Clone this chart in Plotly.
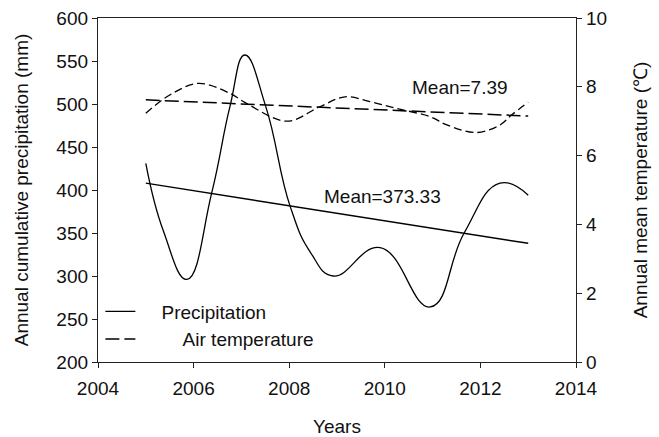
import plotly.graph_objects as go

# Precipitation curve
precip_years = [2005.0, 2005.37, 2005.86, 2006.38, 2006.76, 2007.07, 2007.51,
                2008.02, 2008.45, 2008.92, 2009.9, 2010.95, 2011.66, 2012.41, 2013.0]
precip_mm = [431, 352, 296, 397, 497, 557, 497,
             381, 327, 300, 333, 264, 350, 408, 394]

# Air temperature curve
temp_years = [2005.0, 2005.5, 2006.1, 2006.76, 2007.08, 2007.95, 2008.64, 2009.17,
              2009.69, 2010.25, 2010.95, 2011.3, 2011.92, 2012.41, 2012.65, 2013.0]
temp_c = [7.23, 7.76, 8.10, 7.81, 7.54, 7.00, 7.42, 7.71,
          7.57, 7.37, 7.13, 6.89, 6.67, 6.89, 7.18, 7.55]

# Trend lines
trend_years = [2005, 2013]
precip_trend = [408, 338]
temp_trend = [7.62, 7.15]

FONT = "Liberation Sans, Arial, sans-serif"
FS = 19
NB = "\u00a0"

fig = go.Figure()
fig.add_trace(go.Scatter(x=precip_years, y=precip_mm, mode="lines", name=NB * 4 + "Precipitation",
                         line=dict(color="black", width=1.3, shape="spline", smoothing=1.3)))
fig.add_trace(go.Scatter(x=trend_years, y=precip_trend, mode="lines", showlegend=False,
                         line=dict(color="black", width=1.5)))
fig.add_trace(go.Scatter(x=temp_years, y=temp_c, mode="lines", showlegend=False, yaxis="y2",
                         line=dict(color="black", width=1.3, dash="8px,4px", shape="spline", smoothing=1.0)))
fig.add_trace(go.Scatter(x=trend_years, y=temp_trend, mode="lines", yaxis="y2",
                         name=NB * 8 + "Air temperature",
                         line=dict(color="black", width=1.5, dash="14px,5px")))

fig.add_annotation(x=2009.95, y=392, text="Mean=373.33", showarrow=False,
                   font=dict(family=FONT, size=FS, color="#111"))
fig.add_annotation(x=2011.57, y=7.97, yref="y2", text="Mean=7.39", showarrow=False,
                   font=dict(family=FONT, size=FS, color="#111"))

axis_common = dict(showgrid=False, zeroline=False, showline=True, linecolor="#222", linewidth=1.3,
                   ticks="outside", ticklen=5, tickcolor="#222", tickwidth=1.3, automargin=False,
                   tickfont=dict(family=FONT, size=FS, color="#111"))

fig.update_layout(
    width=659, height=437,
    margin=dict(l=98, r=83, t=18, b=75),
    paper_bgcolor="white", plot_bgcolor="white",
    font=dict(family=FONT, size=FS, color="#111"),
    xaxis=dict(range=[2004, 2014], dtick=2, tick0=2004, mirror=True, ticklabelstandoff=4,
               title=dict(text="Years", font=dict(family=FONT, size=FS), standoff=22),
               **axis_common),
    yaxis=dict(range=[200, 600], dtick=50,
               title=dict(text="Annual cumulative precipitation (mm)", font=dict(family=FONT, size=FS), standoff=22),
               **axis_common),
    yaxis2=dict(range=[0, 10], dtick=2, overlaying="y", side="right",
                title=dict(text="Annual mean temperature (℃)", font=dict(family=FONT, size=FS), standoff=27),
                **axis_common),
    legend=dict(x=0.005, y=0.202, xanchor="left", yanchor="top", bgcolor="rgba(0,0,0,0)",
                font=dict(family=FONT, size=FS, color="#111"), tracegroupgap=0),
    showlegend=True,
)

fig.write_html("out.html")
